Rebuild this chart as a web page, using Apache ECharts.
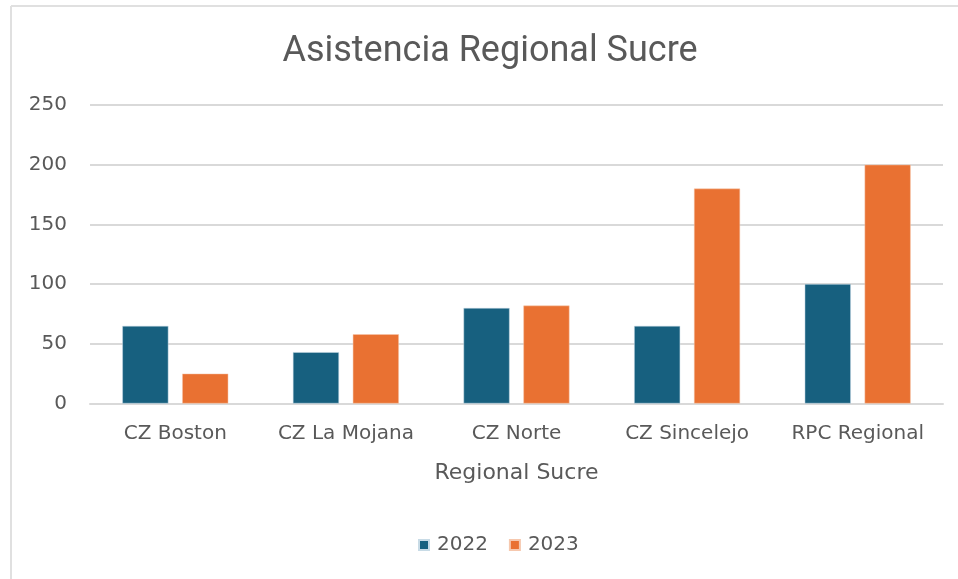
<!DOCTYPE html>
<html>
<head>
<meta charset="utf-8">
<script src="https://cdn.jsdelivr.net/npm/echarts@6/dist/echarts.min.js"></script>
<style>html,body{margin:0;padding:0;background:#fff;}#c{width:958px;height:579px;}</style>
</head>
<body>
<div id="c"></div>
<script>
var categories = ['CZ Boston', 'CZ La Mojana', 'CZ Norte', 'CZ Sincelejo', 'RPC Regional'];
var seriesNames = ['2022', '2023'];
var values2022 = [65, 43, 80, 65, 100];
var values2023 = [25, 58, 82, 180, 200];
var yTicks = [0, 50, 100, 150, 200, 250];

var txt = '#595959';
var font = '"DejaVu Sans", sans-serif';
var chart = echarts.init(document.getElementById('c'), null, {renderer: 'canvas'});
chart.setOption({
  animation: false,
  backgroundColor: '#fff',
  title: {
    text: 'Asistencia Regional Sucre',
    left: 490, top: 34, textAlign: 'center', padding: 0,
    textStyle: {color: txt, fontSize: 36, fontWeight: 'normal', fontFamily: 'Roboto, sans-serif'}
  },
  legend: {
    data: seriesNames,
    left: 418, top: 535, padding: 0,
    itemWidth: 10, itemHeight: 10, itemGap: 21,
    icon: 'rect',
    textStyle: {color: txt, fontSize: 20, fontFamily: font, padding: [0, 0, 0, 3]}
  },
  grid: {left: 90, right: 15, top: 105, bottom: 175.5, containLabel: false},
  xAxis: {
    type: 'category',
    data: categories,
    name: 'Regional Sucre',
    nameLocation: 'middle',
    nameGap: 59,
    nameTextStyle: {color: txt, fontSize: 22, fontFamily: font},
    axisLine: {show: true, lineStyle: {color: '#d9d9d9', width: 2}},
    axisTick: {show: false},
    axisLabel: {color: txt, fontSize: 20, fontFamily: font, margin: 20, interval: 0, hideOverlap: false}
  },
  yAxis: {
    type: 'value',
    min: yTicks[0], max: yTicks[yTicks.length - 1], interval: 50,
    axisLine: {show: false},
    axisTick: {show: false},
    axisLabel: {color: txt, fontSize: 20, fontFamily: font, margin: 23},
    splitLine: {lineStyle: {color: '#d9d9d9', width: 2}}
  },
  series: [
    {name: seriesNames[0], type: 'bar', data: values2022, barWidth: '27%', barGap: '30%',
     itemStyle: {color: '#17607f', borderColor: '#c8dbe6', borderWidth: 0.5}},
    {name: seriesNames[1], type: 'bar', data: values2023, barWidth: '27%', barGap: '30%',
     itemStyle: {color: '#e97132', borderColor: '#f6c8ae', borderWidth: 0.5}}
  ],
  graphic: [
    {type: 'line', shape: {x1: 11, y1: 6, x2: 958, y2: 6}, style: {stroke: '#e0e0e0', lineWidth: 2}, z: 100},
    {type: 'line', shape: {x1: 11, y1: 6, x2: 11, y2: 579}, style: {stroke: '#e0e0e0', lineWidth: 2}, z: 100}
  ]
});
</script>
</body>
</html>
